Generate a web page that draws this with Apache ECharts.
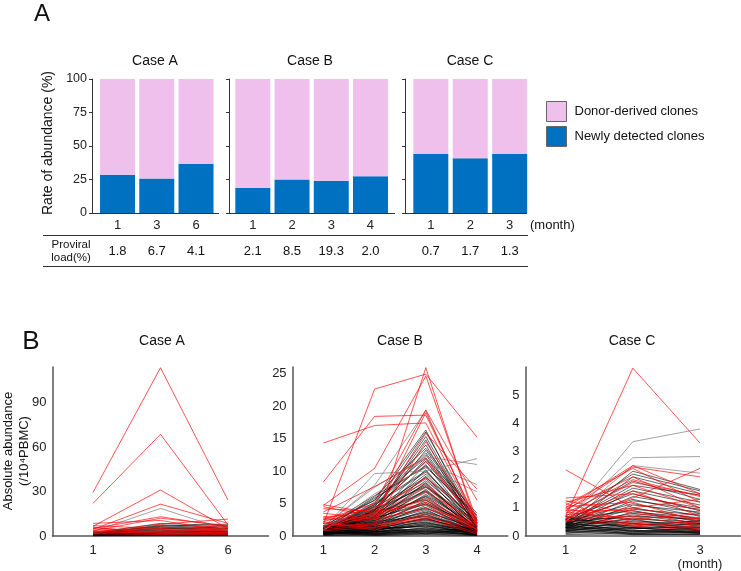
<!DOCTYPE html>
<html lang="en" style="height: 100%">
<head>
  <meta charset="utf-8">
</head>
<body style="height: 100%; margin: 0">
<div id="container" style="height: 100%"></div>

<script type="text/javascript" src="https://cdn.jsdelivr.net/npm/echarts@6/dist/echarts.min.js"></script>

<script type="text/javascript">
  // months sampled for each case
  var monthsA = ['1', '3', '6'];
  var monthsB = ['1', '2', '3', '4'];
  var monthsC = ['1', '2', '3'];

  // panel A: rate of abundance (%)
  var newlyA = [28.5, 25.7, 36.7];
  var donorA = [71.5, 74.3, 63.3];
  var newlyB = [18.8, 25.0, 24.0, 27.4];
  var donorB = [81.2, 75.0, 76.0, 72.6];
  var newlyC = [44.1, 40.9, 44.1];
  var donorC = [55.9, 59.1, 55.9];

  // proviral load (%)
  var loadA = ['1.8', '6.7', '4.1'];
  var loadB = ['2.1', '8.5', '19.3', '2.0'];
  var loadC = ['0.7', '1.7', '1.3'];

  // panel B: absolute abundance per clone (/10^4 PBMC)
  var redA = [
    [29.4, 113.5, 24.2], [22, 68.6, 7.5], [6.5, 31, 5], [4.5, 21.5, 8.5],
    [5, 13, 6], [3.5, 12, 7], [8.5, 10.5, 3], [2.5, 8, 11.4], [3, 6, 4.5],
    [7, 5, 7], [4, 4.5, 3], [1.5, 3.5, 5], [2.5, 3, 2], [5.5, 2.5, 4],
    [3, 2, 1.5], [6, 1.5, 2.5], [1.5, 1, 1]
  ];
  var grayA = [[3, 18.6, 4]];
  var blackA = [
    [2, 8.5, 7], [1.5, 7.5, 6], [1, 7, 5], [2, 6.5, 8], [1, 6, 4], [0.5, 5.5, 3],
    [1.5, 5, 6], [0.8, 4.5, 5], [1.2, 4, 2], [0.5, 3.5, 4], [1, 3, 3], [0.4, 2.8, 2],
    [0.7, 2.5, 3], [0.3, 2, 1.5], [0.6, 1.8, 2.5], [0.2, 1.5, 1], [0.5, 1.2, 1.5],
    [0.3, 1, 0.8], [0.1, 0.8, 1], [0.2, 0.5, 0.5], [0.1, 0.3, 0.3]
  ];

  var redB = [
    [1.8, 22.6, 24.9, 15.2], [8.3, 18.4, 18.6, 2.3], [14.3, 17.0, 17.4, 2.0],
    [2.0, 1.2, 25.9, 1.5], [4.7, 10.4, 24.6, 2.3], [2.5, 5.0, 19.4, 5.5],
    [4.5, 3.0, 19.0, 2.0], [1.5, 3.5, 15.8, 7.2], [3.7, 7.6, 12.0, 1.5],
    [2.7, 4.2, 11.5, 2.5], [2.2, 4.5, 8.2, 1.2], [3.0, 3.2, 7.6, 0.8],
    [2.5, 2.8, 6.0, 1.0], [1.9, 3.3, 5.5, 1.5], [1.2, 2.0, 5.2, 0.6],
    [4.2, 3.8, 4.8, 1.0], [2.2, 0.9, 3.5, 1.8], [1.6, 1.8, 3.0, 0.5],
    [1.0, 1.6, 2.8, 1.2], [0.8, 1.3, 2.6, 0.3], [3.5, 2.6, 4.2, 2.0],
    [1.3, 3.0, 6.8, 2.2], [4.8, 3.5, 9.0, 2.8], [2.8, 2.2, 14.5, 1.9]
  ];
  var grayB = [
    [1.2, 9.6, 10.0, 11.9], [1.5, 7.5, 12.2, 11.0], [0.8, 6.5, 10.5, 6.8],
    [1.5, 7.8, 19.3, 1.5], [1.0, 5.0, 11.3, 7.9]
  ];
  var blackB = [
    [1.3, 5.5, 16.3, 1.0], [1.0, 4.8, 16.0, 2.0], [0.9, 4.0, 15.3, 1.3],
    [1.4, 3.8, 14.8, 0.8], [1.1, 4.5, 14.0, 1.0], [0.7, 3.5, 13.2, 2.5],
    [1.6, 5.5, 12.0, 3.5], [1.2, 4.2, 11.5, 1.8], [0.8, 3.0, 11.0, 1.2],
    [1.0, 5.8, 10.8, 2.8], [0.6, 2.8, 10.2, 0.9], [1.3, 4.8, 9.8, 2.2],
    [0.9, 3.6, 9.5, 1.6], [1.1, 2.5, 9.2, 0.7], [0.7, 4.0, 8.8, 1.4],
    [1.5, 3.2, 8.5, 2.0], [0.5, 2.2, 8.2, 0.8], [1.0, 3.8, 7.8, 1.1],
    [0.8, 2.9, 7.5, 1.7], [1.2, 2.0, 7.2, 0.5], [0.6, 3.3, 7.0, 1.3],
    [0.9, 2.6, 6.7, 0.9], [1.4, 1.8, 6.4, 1.5], [0.5, 2.4, 6.1, 0.6],
    [1.0, 3.0, 5.8, 1.0], [0.7, 1.6, 5.5, 0.4], [0.8, 2.7, 5.2, 1.2],
    [1.1, 2.1, 5.0, 0.8], [0.4, 1.5, 4.7, 0.5], [0.9, 2.4, 4.4, 1.0],
    [0.6, 1.9, 4.1, 0.3], [1.2, 1.4, 3.9, 0.9], [0.3, 1.7, 3.6, 0.6],
    [0.8, 1.2, 3.3, 0.4], [0.5, 2.2, 3.1, 1.1], [0.4, 1.0, 2.8, 0.2],
    [0.7, 1.5, 2.6, 0.7], [0.3, 0.8, 2.4, 0.5], [0.6, 1.3, 2.1, 0.3],
    [0.2, 0.9, 1.9, 0.6], [0.5, 0.6, 1.7, 0.2], [0.3, 1.1, 1.5, 0.4],
    [0.4, 0.5, 1.3, 0.3], [0.2, 0.7, 1.1, 0.1], [0.3, 0.4, 0.9, 0.2],
    [0.1, 0.3, 0.7, 0.1], [0.2, 0.2, 0.5, 0.3], [0.1, 0.1, 0.3, 0.1],
    [1.3, 1.2, 2.5, 1.0], [1.1, 0.8, 2.0, 0.8], [0.9, 1.0, 1.6, 0.5],
    [1.2, 0.6, 1.2, 0.7], [0.8, 0.4, 1.0, 0.4], [0.6, 0.3, 0.8, 0.2],
    [1.0, 0.5, 0.6, 0.6], [0.7, 0.2, 0.4, 0.3], [0.5, 0.1, 0.2, 0.1],
    [1.0, 6.0, 13.5, 3.0], [0.8, 5.2, 12.8, 2.0], [1.2, 4.6, 12.5, 1.5],
    [0.6, 3.9, 11.8, 2.6], [1.4, 6.2, 10.6, 3.2], [0.9, 5.0, 10.0, 1.9],
    [1.1, 4.4, 9.0, 2.4], [0.7, 3.4, 8.0, 1.0], [1.3, 4.1, 7.6, 2.1],
    [0.5, 3.1, 6.9, 0.9], [1.0, 2.3, 6.2, 1.4], [0.8, 3.7, 5.6, 0.7],
    [1.2, 2.8, 4.9, 1.6], [0.6, 2.0, 4.3, 0.8], [0.9, 1.7, 3.7, 1.2],
    [0.4, 1.4, 3.4, 0.5], [1.1, 1.9, 3.0, 0.9], [0.7, 1.1, 2.7, 0.6],
    [0.5, 0.9, 2.2, 0.4], [0.3, 0.6, 1.8, 0.3], [1.5, 1.3, 1.4, 1.3],
    [1.4, 0.9, 0.9, 1.1], [1.6, 0.7, 0.7, 0.9], [1.3, 0.3, 0.5, 0.8],
    [1.2, 1.6, 0.3, 1.4]
  ];

  var redC = [
    [0.7, 5.96, 3.3], [2.35, 1.0, 0.6], [1.0, 2.5, 1.5], [0.9, 2.45, 2.1],
    [1.1, 2.4, 1.2], [0.8, 2.0, 1.4], [1.2, 1.8, 1.0], [0.5, 1.35, 2.4],
    [1.35, 1.5, 0.9], [0.6, 1.6, 0.7], [1.05, 1.2, 0.5], [0.75, 1.0, 1.3],
    [0.9, 0.9, 0.4], [1.25, 0.8, 0.6], [0.65, 0.7, 0.35], [0.85, 0.6, 0.8],
    [1.15, 0.5, 0.3], [0.7, 0.45, 0.25], [0.55, 0.4, 0.5], [1.0, 0.35, 0.2],
    [0.6, 1.9, 1.45], [0.95, 2.1, 1.0]
  ];
  var grayC = [[0.5, 3.35, 3.8], [0.6, 2.78, 2.82], [0.5, 2.5, 2.23]];
  var blackC = [
    [0.4, 2.3, 1.65], [0.7, 2.2, 1.6], [0.3, 2.1, 1.5], [0.6, 1.95, 1.3],
    [0.5, 1.8, 1.45], [0.45, 1.7, 1.2], [0.35, 1.6, 1.1], [0.6, 1.5, 0.9],
    [0.4, 1.4, 1.0], [0.55, 1.3, 0.8], [0.3, 1.25, 0.95], [0.5, 1.15, 0.7],
    [0.25, 1.1, 0.85], [0.45, 1.0, 0.6], [0.35, 0.95, 0.75], [0.6, 0.9, 0.5],
    [0.2, 0.85, 0.65], [0.4, 0.8, 0.55], [0.3, 0.75, 0.45], [0.5, 0.7, 0.6],
    [0.25, 0.65, 0.4], [0.35, 0.6, 0.5], [0.15, 0.55, 0.35], [0.45, 0.5, 0.45],
    [0.3, 0.45, 0.3], [0.2, 0.4, 0.4], [0.4, 0.35, 0.25], [0.1, 0.3, 0.3],
    [0.3, 0.28, 0.2], [0.2, 0.25, 0.35], [0.15, 0.2, 0.15], [0.25, 0.15, 0.25],
    [0.1, 0.12, 0.1], [0.2, 0.1, 0.2], [0.05, 0.08, 0.05],
    [0.55, 0.3, 0.15], [0.45, 0.2, 0.1], [0.35, 0.18, 0.12], [0.6, 0.45, 0.18],
    [0.5, 0.15, 0.3], [0.65, 0.6, 0.2], [0.3, 0.05, 0.08], [0.4, 0.08, 0.15],
    [0.25, 0.3, 0.1], [0.15, 0.05, 0.05], [0.7, 0.25, 0.45], [0.6, 0.35, 0.55]
  ];

  var FONT = '"Liberation Sans", Arial, sans-serif';
  var PINK = '#F0C0EC';
  var BLUE = '#0070C0';

  // bar grids sit on the bands; the y axis is pushed out a few px like the original
  var barCases = [
    {months: monthsA, newly: newlyA, donor: donorA, load: loadA, left: 97.9, width: 117.75, offset: 5.9, base: [92, 219]},
    {months: monthsB, newly: newlyB, donor: donorB, load: loadB, left: 233.2, width: 156.9, offset: 4.2, base: [229, 395]},
    {months: monthsC, newly: newlyC, donor: donorC, load: loadC, left: 411.1, width: 118.3, offset: 6.1, base: [405, 527]}
  ];
  var lineCases = [
    {months: monthsA, black: blackA, gray: grayA, red: redA, max: 114, ticks: [0, 30, 60, 90], left: 52.5, width: 216},
    {months: monthsB, black: blackB, gray: grayB, red: redB, max: 26, ticks: [0, 5, 10, 15, 20, 25], left: 292.6, width: 215.2},
    {months: monthsC, black: blackC, gray: grayC, red: redC, max: 6, ticks: [0, 1, 2, 3, 4, 5], left: 525.4, width: 214.9}
  ];

  var grid = [], xAxis = [], yAxis = [], series = [];

  barCases.forEach(function (c, i) {
    grid.push({left: c.left, top: 79, width: c.width, height: 134});
    xAxis.push({
      type: 'category', gridIndex: i, data: c.months, boundaryGap: true,
      axisLine: {show: false}, axisTick: {show: false}, splitLine: {show: false},
      axisLabel: {color: '#222', fontSize: 13, fontFamily: FONT, margin: 6}
    });
    yAxis.push({
      type: 'value', gridIndex: i, min: 0, max: 100, interval: 25, offset: c.offset,
      axisLine: {show: true, lineStyle: {color: '#333', width: 1}},
      axisTick: {show: true, length: 3, lineStyle: {color: '#333'}},
      splitLine: {show: false},
      axisLabel: {show: i === 0, color: '#222', fontSize: 12.5, fontFamily: FONT, margin: 5}
    });
    series.push({
      type: 'bar', name: 'Newly detected clones', xAxisIndex: i, yAxisIndex: i,
      stack: 'rate' + i, barWidth: 35, silent: true,
      itemStyle: {color: BLUE},
      data: c.newly
    });
    series.push({
      type: 'bar', name: 'Donor-derived clones', xAxisIndex: i, yAxisIndex: i,
      stack: 'rate' + i, barWidth: 35, silent: true,
      itemStyle: {color: PINK},
      data: c.donor
    });
  });

  function addLines(rows, idx, color, width) {
    rows.forEach(function (r) {
      series.push({
        type: 'line', xAxisIndex: idx, yAxisIndex: idx, symbol: 'none', silent: true,
        lineStyle: {color: color, width: width},
        data: r.map(function (v, j) { return [j + 1, v]; })
      });
    });
  }

  lineCases.forEach(function (c, k) {
    var idx = k + 3;
    var n = c.months.length;
    grid.push({left: c.left, top: 367, width: c.width, height: 169});
    xAxis.push({
      type: 'value', gridIndex: idx, min: 0.4, max: n + 0.6,
      axisLine: {lineStyle: {color: '#555', width: 1.5}},
      axisTick: {show: false}, splitLine: {show: false},
      axisLabel: {
        customValues: c.months.map(function (m, j) { return j + 1; }),
        formatter: function (v) {
          return c.months[v - 1] + (k === 2 && v === n ? '\n(month)' : '');
        },
        color: '#222', fontSize: 13, lineHeight: 14, fontFamily: FONT, margin: 7
      }
    });
    yAxis.push({
      type: 'value', gridIndex: idx, min: 0, max: c.max,
      axisLine: {show: true, lineStyle: {color: '#555', width: 1.5}},
      axisTick: {show: false}, splitLine: {show: false},
      axisLabel: {customValues: c.ticks, color: '#222', fontSize: 13, fontFamily: FONT, margin: 6}
    });
    addLines(c.black, idx, 'rgba(0,0,0,0.85)', 0.7);
    addLines(c.gray, idx, '#8a8a8a', 0.8);
    addLines(c.red, idx, 'rgba(255,0,0,0.85)', 0.8);
  });

  function txt(x, y, s, size, extra) {
    var o = {
      type: 'text', x: x, y: y, silent: true,
      style: {text: s, fill: '#111', font: size + 'px ' + FONT, align: 'center', verticalAlign: 'middle'}
    };
    if (extra) { for (var key in extra) { o.style[key] = extra[key]; } }
    return o;
  }
  function hline(x1, x2, y) {
    return {type: 'line', silent: true, shape: {x1: x1, y1: y, x2: x2, y2: y}, style: {stroke: '#333', lineWidth: 1}};
  }

  var graphics = [
    txt(42, 14, 'A', 24),
    txt(31, 342, 'B', 26),
    txt(155, 61, 'Case A', 14), txt(310, 61, 'Case B', 14), txt(470, 61, 'Case C', 14),
    txt(162, 341, 'Case A', 14), txt(400, 341, 'Case B', 14), txt(632, 341, 'Case C', 14),
    txt(530, 225, '(month)', 13, {align: 'left'}),
    txt(71, 245, 'Proviral', 11.5), txt(71, 258, 'load(%)', 11.5),
    hline(43, 528, 235.5), hline(43, 528, 266.5),
    {type: 'text', x: 48, y: 143, rotation: Math.PI / 2, silent: true,
      style: {text: 'Rate of abundance (%)', fill: '#111', font: '14px ' + FONT, align: 'center', verticalAlign: 'middle'}},
    {type: 'text', x: 16, y: 451, rotation: Math.PI / 2, silent: true,
      style: {text: 'Absolute abundance\n(/10\u2074PBMC)', fill: '#111', font: '13px ' + FONT, lineHeight: 16, align: 'center', verticalAlign: 'middle'}}
  ];
  // bar-panel baselines, running a little past the bars as in the original
  barCases.forEach(function (c) { graphics.push(hline(c.base[0], c.base[1], 213.5)); });

  var dom = document.getElementById('container');
  var myChart = echarts.init(dom, null, {renderer: 'canvas'});

  var option = {
    animation: false,
    backgroundColor: '#fff',
    legend: {
      left: 546, top: 101, orient: 'vertical', padding: 0,
      itemWidth: 20, itemHeight: 20, itemGap: 4, icon: 'rect',
      selectedMode: false,
      data: ['Donor-derived clones', 'Newly detected clones'],
      itemStyle: {borderColor: '#666', borderWidth: 1},
      textStyle: {fontSize: 13, color: '#111', fontFamily: FONT, padding: [0, 0, 0, 3]}
    },
    grid: grid,
    xAxis: xAxis,
    yAxis: yAxis,
    series: series,
    graphic: graphics
  };
  myChart.setOption(option);

  // proviral load values under each bar
  barCases.forEach(function (c, i) {
    c.load.forEach(function (v, j) {
      var px = myChart.convertToPixel({xAxisIndex: i}, j);
      graphics.push(txt(px, 251, v, 13));
    });
  });
  myChart.setOption({graphic: graphics});

  window.addEventListener('resize', myChart.resize);
</script>
</body>
</html>
